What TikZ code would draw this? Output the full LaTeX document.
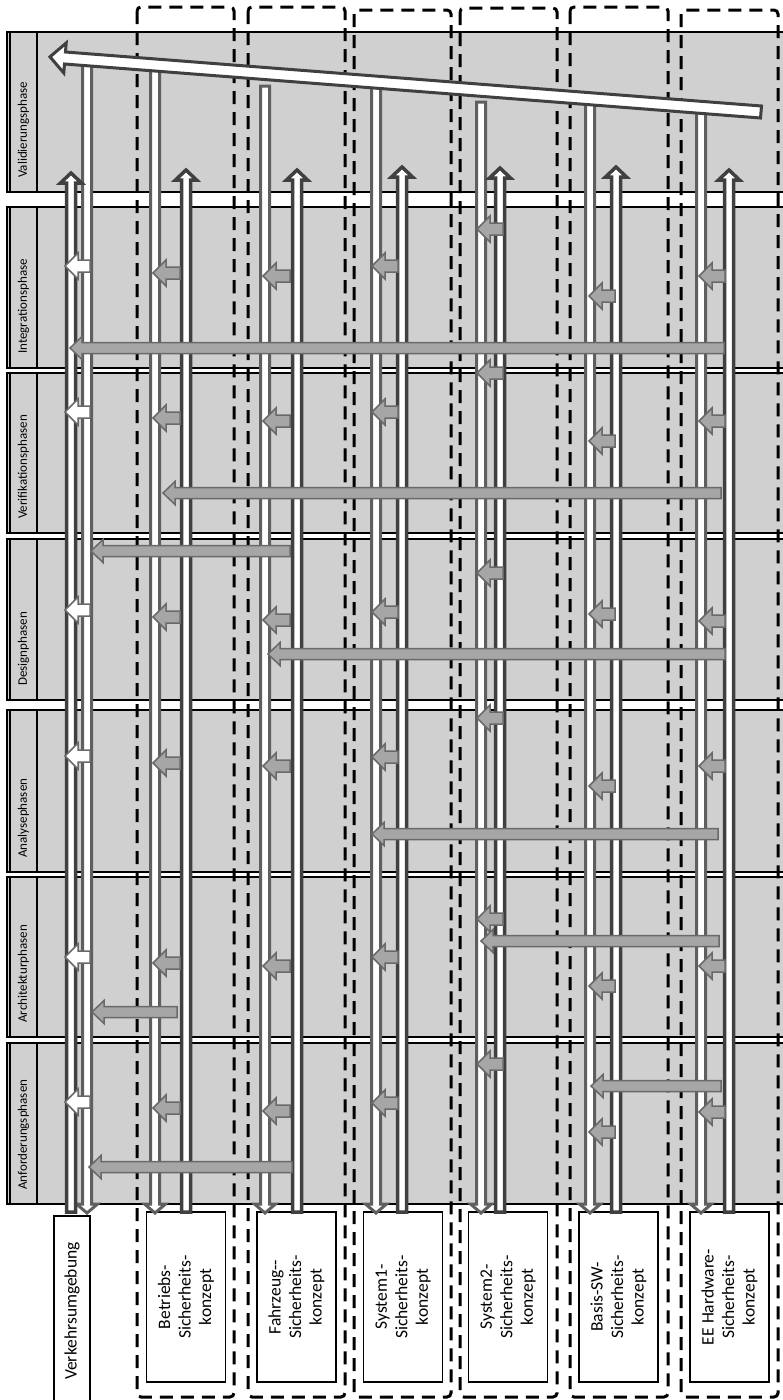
\documentclass[tikz,border=0pt]{standalone}
\usepackage{fontspec}
\setmainfont{Carlito}

\definecolor{bandgray}{RGB}{208,208,208}
\definecolor{flowgray}{RGB}{166,166,166}
\definecolor{flowline}{RGB}{105,105,105}
\definecolor{pipegray}{RGB}{95,95,95}
\definecolor{updark}{RGB}{64,64,64}

\tikzset{
  band/.style={draw=black, line width=1.6pt, fill=bandgray},
  phasetext/.style={rotate=90, anchor=west, inner sep=0pt, font=\fontsize{13}{15}\selectfont},
  column/.style={draw=black, line width=3pt, dash pattern=on 13pt off 8pt, rounded corners=4pt},
  concept/.style={draw=black, line width=1.3pt, fill=white, rotate=90, align=center,
    minimum width=170pt, minimum height=79pt, inner sep=2pt, font=\fontsize{17.5}{20.5}\selectfont},
  pipedown/.style={draw=pipegray, line width=3pt, fill=white},
  pipeup/.style={draw=updark, line width=3.5pt, fill=white},
  flow/.style={draw=flowline, line width=1.5pt, fill=flowgray},
}

% short arrow inside a column: [fill] y, tail x, tip x
\newcommand{\handover}[4][flowgray]{%
  \draw[flow, fill=#1] (#3,#2-6) -- (#4+13,#2-6) -- (#4+13,#2-13) -- (#4,#2)
    -- (#4+13,#2+13) -- (#4+13,#2+6) -- (#3,#2+6) -- cycle;}
% long arrow across columns: y, tail x, tip x
\newcommand{\crossarr}[3]{%
  \draw[flow] (#2,#1-5.5) -- (#3+12,#1-5.5) -- (#3+12,#1-11.5) -- (#3,#1)
    -- (#3+12,#1+11.5) -- (#3+12,#1+5.5) -- (#2,#1+5.5) -- cycle;}
% down pipe: x, top y
\newcommand{\downpipe}[2]{%
  \draw[pipedown] (#1-4.5,#2) -- (#1+4.5,#2) -- (#1+4.5,1204) -- (#1+10.5,1204)
    -- (#1,1213) -- (#1-10.5,1204) -- (#1-4.5,1204) -- cycle;}
% up pipe: x, tip y
\newcommand{\uppipe}[2]{%
  \draw[pipeup] (#1-4.5,1212) -- (#1-4.5,#2+10) -- (#1-10.5,#2+10) -- (#1,#2)
    -- (#1+10.5,#2+10) -- (#1+4.5,#2+10) -- (#1+4.5,1212) -- cycle;}

\begin{document}
\begin{tikzpicture}[x=1pt, y=-1pt]
  \clip (0,0) rectangle (783,1400);

  % phases
  \foreach \ya/\yb/\name/\lab in {32/192/val/Validierungsphase, 207/368/int/Integrationsphase,
      373/533/ver/Verifikationsphasen, 539/700/des/Designphasen, 710/872/ana/Analysephasen,
      877/1037/arc/Architekturphasen, 1043/1204/anf/Anforderungsphasen}{
    \draw[band] (7,\ya) rectangle (800,\yb);
    \draw[band] (10,\ya) rectangle (37,\yb);
    \node[phasetext] (\name) at (23.5,\yb-14) {\lab};
  }

  % columns
  \foreach \xa/\xb/\ya in {137/234/7, 248/345/7, 354/451/10, 460/557/8, 570/668/7, 681/778/10}
    \draw[column] (\xa,\ya) rectangle (\xb,1397);

  % concepts
  \node[concept, minimum width=190pt, minimum height=36pt] (verk) at (72,1311) {Verkehrsumgebung};
  \node[concept] (betr) at (186,1297) {Betriebs-\\Sicherheits-\\konzept};
  \node[concept] (fahr) at (296.5,1297) {Fahrzeug-{}-\\Sicherheits-\\konzept};
  \node[concept] (sys1) at (403,1297) {System1-\\Sicherheits-\\konzept};
  \node[concept] (sys2) at (508,1297) {System2-\\Sicherheits-\\konzept};
  \node[concept] (basis) at (618.5,1297) {Basis-SW-\\Sicherheits-\\konzept};
  \node[concept] (ee) at (729.5,1297) {EE Hardware-\\Sicherheits-\\konzept};

  % pipes down and up
  \foreach \xd/\td/\xu/\tu in {87/62/71/173, 155/70/186/170, 265/86/297/170, 376/87/402/167,
      481/102/500/168, 590/101/616/167, 701/112/729/170}{
    \downpipe{\xd}{\td}
    \uppipe{\xu}{\tu}
  }

  % validation
  \draw[pipeup, line width=3pt] (761.5,106) -- (65.5,52) -- (66.2,43) -- (50,56.8)
    -- (63.8,73) -- (64.5,64) -- (760.5,118) -- cycle;

  % hand-over arrows
  \foreach \y in {266,412,610,756,957,1102} {\handover[white]{\y}{90}{65}}
  \foreach \xt/\xh/\ys in {180/153/{273,418,617,763,963,1108}, 290/263/{276,421,620,766,966,1111},
      398/372/{266,412,612,757,957,1103}, 503/477/{229,373,573,718,919,1064},
      615/589/{296,441,614,786,986,1132}, 725/699/{276,421,621,766,966,1112}}
    \foreach \y in \ys {\handover{\y}{\xt}{\xh}}

  \foreach \y/\xt/\xh in {348/724/70, 493/721/163, 551/290/91, 654/725/268, 834/718/372,
      941/719/481, 1012/177/92, 1086/721/591, 1167/292/89}
    {\crossarr{\y}{\xt}{\xh}}
\end{tikzpicture}
\end{document}
